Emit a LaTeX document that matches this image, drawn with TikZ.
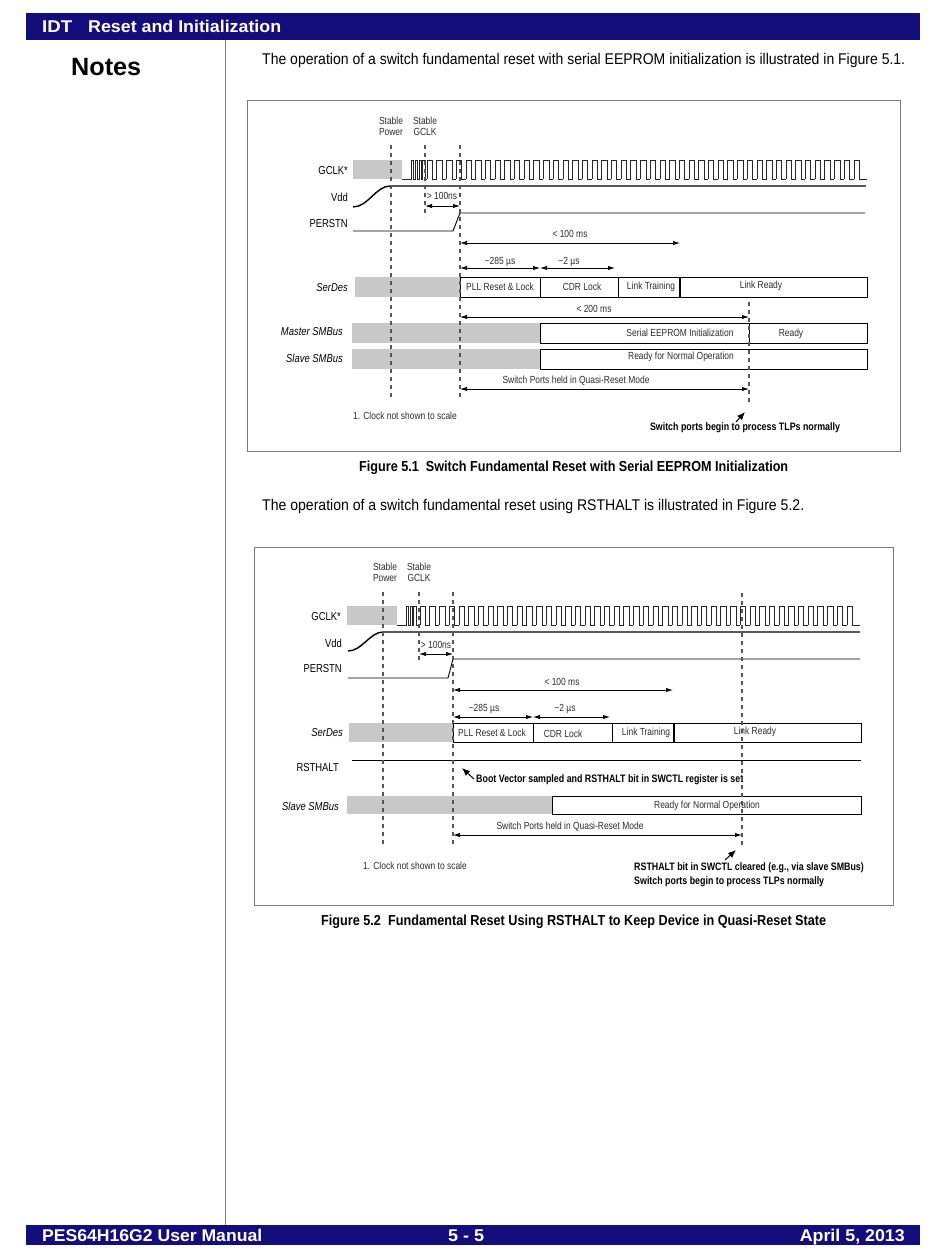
\documentclass[tikz,border=0pt]{standalone}
\usepackage{graphicx}
\usepackage{fontspec}
\setmainfont{Liberation Sans}
\newfontfamily\nar[FakeStretch=0.82]{Liberation Sans}
\usetikzlibrary{arrows.meta}
\definecolor{navy}{RGB}{20,14,125}
\definecolor{lightg}{RGB}{200,200,200}
\definecolor{dashc}{RGB}{85,85,85}
\definecolor{txtg}{RGB}{45,45,45}
\definecolor{framec}{RGB}{120,120,120}
\newcommand{\fitw}[2]{\resizebox{#1}{\height}{#2}}
\newcommand{\clockwave}[4]{%
  \foreach \i in {0,...,#2}{%
    \draw[clk] ({#1+\i*9.7},#3) -- ({#1+\i*9.7},#4) -- ({#1+\i*9.7+5.4},#4) -- ({#1+\i*9.7+5.4},#3) -- ({#1+\i*9.7+9.7},#3);}}
\tikzset{
  sig/.style={line width=0.9pt, black},
  vddline/.style={line width=1.4pt, black},
  clk/.style={line width=0.6pt, black!85},
  vdash/.style={dashc, line width=1.1pt, dash pattern=on 4pt off 4pt},
  dim/.style={line width=0.7pt, {Latex[length=7pt,width=4.2pt]}-{Latex[length=7pt,width=4.2pt]}},
  seg/.style={draw=black, line width=0.8pt},
  frm/.style={draw=framec, line width=1pt},
  graybar/.style={fill=lightg, draw=none},
  lbl/.style={font=\nar\fontsize{11.5}{13}\selectfont, anchor=east, inner sep=0},
  ilbl/.style={lbl, font=\nar\itshape\fontsize{11.5}{13}\selectfont},
  small/.style={font=\nar\fontsize{10.3}{11}\selectfont, text=txtg, inner sep=0},
  note/.style={font=\nar\bfseries\fontsize{10.8}{12.5}\selectfont, inner sep=0},
  callout/.style={line width=1pt, -{Latex[length=8pt,width=6.5pt]}},
  pagetxt/.style={font=\fontsize{15.5}{16}\selectfont, anchor=base west, inner sep=0},
  captxt/.style={font=\bfseries\fontsize{14.5}{15}\selectfont, anchor=base west, inner sep=0},
  bartxt/.style={font=\bfseries\fontsize{17}{18}\selectfont, text=white, anchor=base west, inner sep=0}
}
\begin{document}
\begin{tikzpicture}[x=1pt,y=-1pt]
\useasboundingbox[fill=white] (0,0) rectangle (950,1260);

% ---------- page furniture ----------
\fill[navy] (26,13) rectangle (920,40);
\node[bartxt] (hidt) at (42,32.5) {\fitw{30pt}{IDT}};
\node[bartxt] (hsec) at (88,32.5) {\fitw{193pt}{Reset and Initialization}};
\draw[gray, line width=0.7pt] (225,40) -- (225,1225);
\node[font=\bfseries\fontsize{25}{25}\selectfont, anchor=base west, inner sep=0] (notes) at (71,76) {\fitw{70pt}{Notes}};
\node[pagetxt] (p1) at (262,65) {\fitw{643pt}{The operation of a switch fundamental reset with serial EEPROM initialization is illustrated in Figure 5.1.}};
\node[captxt] (c1) at (359,471) {\fitw{429pt}{Figure 5.1~~Switch Fundamental Reset with Serial EEPROM Initialization}};
\node[pagetxt] (p2) at (262,510) {\fitw{542pt}{The operation of a switch fundamental reset using RSTHALT is illustrated in Figure 5.2.}};
\node[captxt] (c2) at (321,925) {\fitw{505pt}{Figure 5.2~~Fundamental Reset Using RSTHALT to Keep Device in Quasi-Reset State}};
\fill[navy] (26,1225) rectangle (920,1245);
\node[bartxt] (f1) at (42,1241) {\fitw{220pt}{PES64H16G2 User Manual}};
\node[bartxt] (f2) at (448,1241) {\fitw{36pt}{5 - 5}};
\node[bartxt, anchor=base east] (f3) at (905,1241) {\fitw{105pt}{April 5, 2013}};

% ================= FIGURE 5.1 =================
\draw[frm] (247,101) rectangle (900,451);
\node[small, align=center] (a-sp) at (391,126) {Stable\\Power};
\node[small, align=center] (a-sg) at (425,126) {Stable\\GCLK};
% GCLK
\node[lbl] (a-gclk) at (348,171) {GCLK*};
\fill[graybar] (353,160) rectangle (402,179);
\draw[clk] (402,179) -- (411,179) -- (411,160) -- (413,160) -- (413,179) -- (415,179) -- (415,160) -- (417,160) -- (417,179) -- (419,179) -- (419,160) -- (421,160) -- (421,179) -- (422.5,179) -- (422.5,160) -- (425,160) -- (425,179) -- (427,179);
\clockwave{427}{44}{179}{160}
\draw[clk] (863.5,179) -- (867,179);
% Vdd
\node[lbl] (a-vdd) at (348,197) {Vdd};
\draw[vddline] (353,207) .. controls (368,207) and (376,186) .. (390,186) -- (866,186);
\node[small] (a-100ns) at (442,196) {> 100ns};
\draw[dim] (425,206) -- (460,206);
% PERSTN
\node[lbl] (a-perstn) at (348,224) {PERSTN};
\draw[sig] (353,231) -- (453,231) -- (460,213) -- (865,213);
\node[small] (a-100ms) at (570,234) {< 100 ms};
\draw[dim] (460,243) -- (680,243);
\node[small] (a-285) at (500,262) {\textasciitilde285 µs};
\draw[dim] (460,268) -- (540,268);
\node[small] (a-2us) at (569,262) {\textasciitilde2 µs};
\draw[dim] (540,268) -- (615,268);
% SerDes
\node[ilbl] (a-serdes) at (348,288) {SerDes};
\fill[graybar] (355,277) rectangle (460,297);
\draw[seg] (460,277) rectangle (867,297);
\draw[seg] (540,277) -- (540,297) (618,277) -- (618,297);
\draw[black, line width=1.2pt] (680,277) -- (680,297);
\node[small] (a-pll) at (500,287) {PLL Reset \& Lock};
\node[small] (a-cdr) at (582,287) {CDR Lock};
\node[small] (a-lt) at (651,287) {Link Training};
\node[small] (a-lr) at (761,286) {Link Ready};
% <200 ms
\node[small] (a-200ms) at (594,309) {< 200 ms};
\draw[dim] (460,317) -- (749,317);
% Master SMBus
\node[ilbl] (a-master) at (343,332) {Master SMBus};
\fill[graybar] (352,323) rectangle (540,343);
\draw[seg] (540,323) rectangle (867,343);
\draw[seg] (749,323) -- (749,343);
\node[small] (a-eeprom) at (680,333) {Serial EEPROM Initialization};
\node[small] (a-ready) at (791,334) {Ready};
% Slave SMBus
\node[ilbl] (a-slave) at (343,358) {Slave SMBus};
\fill[graybar] (352,349) rectangle (540,369);
\draw[seg] (540,349) rectangle (867,369);
\node[small] (a-rfno) at (681,357) {Ready for Normal Operation};
% Quasi reset
\node[small] (a-quasi) at (576,381) {Switch Ports held in Quasi-Reset Mode};
\draw[dim] (460,389) -- (749,389);
\node[small] (a-clk) at (405,416) {1. Clock not shown to scale};
% dashed markers
\draw[vdash] (391,145) -- (391,400);
\draw[vdash] (460,145) -- (460,400);
\draw[vdash] (425,145) -- (425,217);
\draw[vdash] (749,302) -- (749,405);
\node[note] (a-tlp) at (745,428) {Switch ports begin to process TLPs normally};
\coordinate (a-tip) at (745,412);
\draw[callout] (736,422) -- (a-tip);

% ================= FIGURE 5.2 =================
\draw[frm] (254,547) rectangle (893,905);
\node[small, align=center] (b-sp) at (385,572) {Stable\\Power};
\node[small, align=center] (b-sg) at (419,572) {Stable\\GCLK};
% GCLK
\node[lbl] (b-gclk) at (341,617) {GCLK*};
\fill[graybar] (347,606) rectangle (397,625);
\draw[clk] (397,625) -- (406,625) -- (406,606) -- (408,606) -- (408,625) -- (410,625) -- (410,606) -- (412,606) -- (412,625) -- (413.5,625) -- (413.5,606) -- (416,606) -- (416,625) -- (420,625);
\clockwave{420}{44}{625}{606}
\draw[clk] (856.5,625) -- (860,625);
% Vdd
\node[lbl] (b-vdd) at (342,643) {Vdd};
\draw[vddline] (348,651) .. controls (362,651) and (370,632) .. (383,632) -- (860,632);
\node[small] (b-100ns) at (436,645) {> 100ns};
\draw[dim] (419,654) -- (453,654);
% PERSTN
\node[lbl] (b-perstn) at (342,669) {PERSTN};
\draw[sig] (348,678) -- (448,678) -- (453,659) -- (860,659);
\node[small] (b-100ms) at (562,682) {< 100 ms};
\draw[dim] (453,690) -- (673,690);
\node[small] (b-285) at (484,709) {\textasciitilde285 µs};
\draw[dim] (453,717) -- (533,717);
\node[small] (b-2us) at (565,709) {\textasciitilde2 µs};
\draw[dim] (533,717) -- (610,717);
% SerDes
\node[ilbl] (b-serdes) at (343,733) {SerDes};
\fill[graybar] (349,723) rectangle (453,742);
\draw[seg] (453,723) rectangle (861,742);
\draw[seg] (533,723) -- (533,742) (612,723) -- (612,742);
\draw[black, line width=1.2pt] (674,723) -- (674,742);
\node[small] (b-pll) at (492,733) {PLL Reset \& Lock};
\node[small] (b-cdr) at (563,734) {CDR Lock};
\node[small] (b-lt) at (646,733) {Link Training};
\node[small] (b-lr) at (755,732) {Link Ready};
% RSTHALT
\node[lbl] (b-rsthalt) at (339,768) {RSTHALT};
\draw[line width=0.7pt] (352,760) -- (861,760);
\node[note, anchor=west] (b-boot) at (476,780) {Boot Vector sampled and RSTHALT bit in SWCTL register is set};
\coordinate (b-tip1) at (462,768);
\draw[callout] (474,779) -- (b-tip1);
% Slave SMBus
\node[ilbl] (b-slave) at (339,806) {Slave SMBus};
\fill[graybar] (347,796) rectangle (552,814);
\draw[seg] (552,796) rectangle (861,814);
\node[small] (b-rfno) at (707,806) {Ready for Normal Operation};
% Quasi reset
\node[small] (b-quasi) at (570,827) {Switch Ports held in Quasi-Reset Mode};
\draw[dim] (453,835) -- (742,835);
\node[small] (b-clk) at (415,866) {1. Clock not shown to scale};
% dashed markers
\draw[vdash] (383,592) -- (383,846);
\draw[vdash] (453,592) -- (453,846);
\draw[vdash] (419,592) -- (419,662);
\draw[vdash] (742,593) -- (742,847);
\node[note, anchor=west] (b-clr) at (634,868) {RSTHALT bit in SWCTL cleared (e.g., via slave SMBus)};
\node[note, anchor=west] (b-tlp) at (634,882) {Switch ports begin to process TLPs normally};
\coordinate (b-tip2) at (736,850);
\draw[callout] (725,860) -- (b-tip2);
\end{tikzpicture}
\end{document}
